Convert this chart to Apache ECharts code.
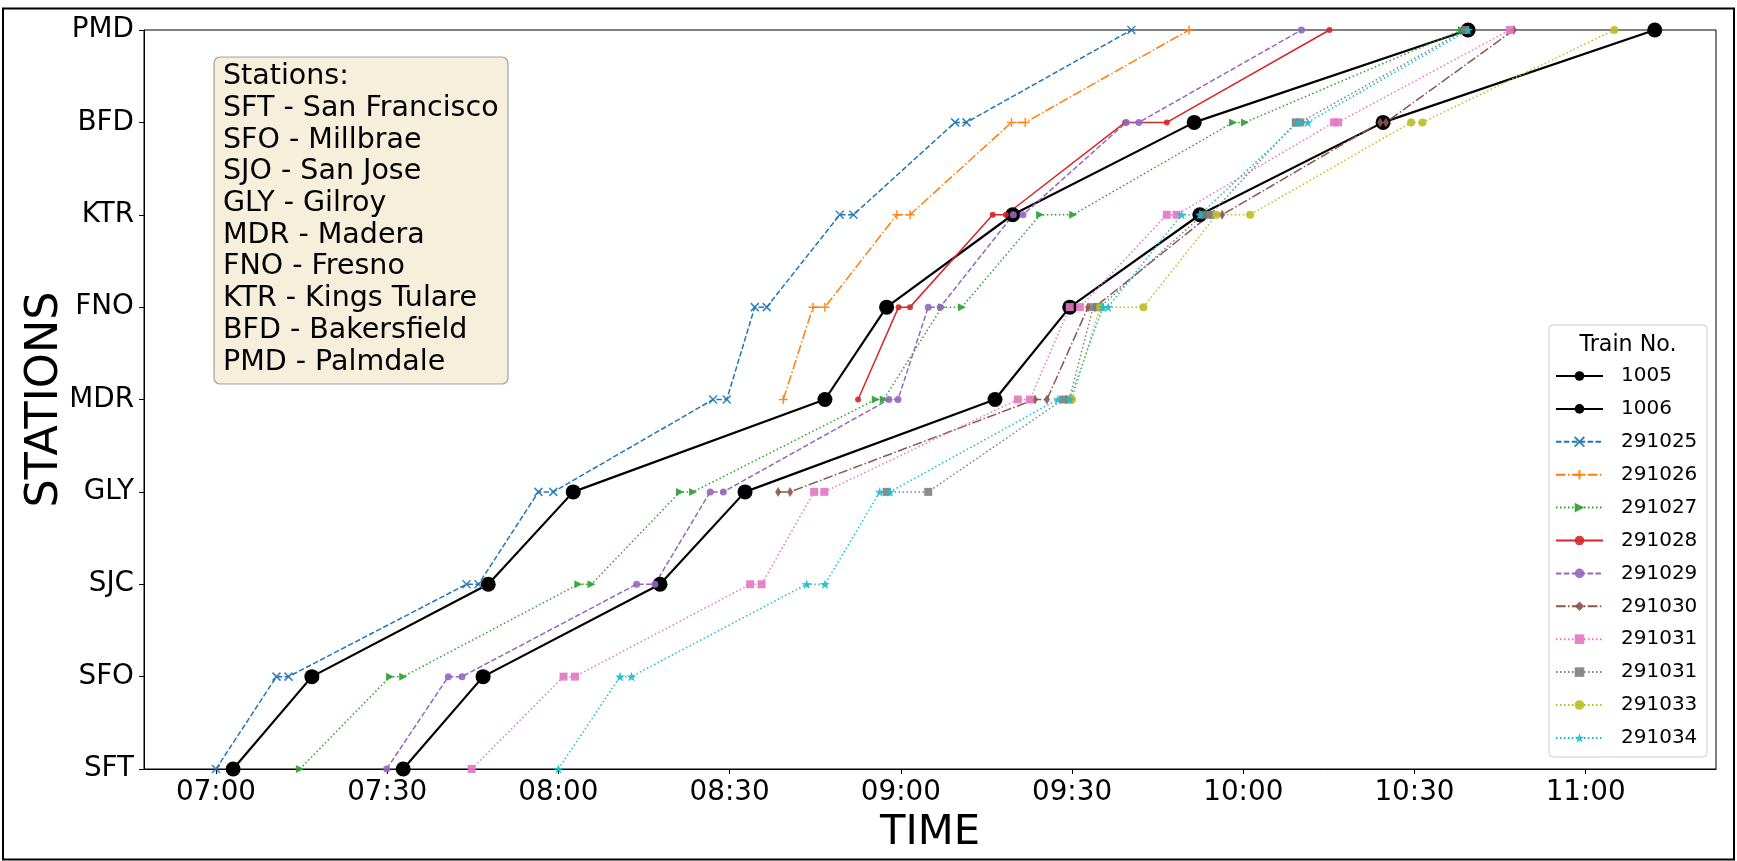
<!DOCTYPE html>
<html><head><meta charset="utf-8">
<script src="https://cdn.jsdelivr.net/npm/echarts@6/dist/echarts.min.js"></script>
<style>html,body{margin:0;padding:0;background:#fff;}#c{width:1737px;height:861px;}</style>
</head><body><div id="c"></div>
<script>
// ---------- DATA ----------
const stations = ['SFT','SFO','SJC','GLY','MDR','FNO','KTR','BFD','PMD'];
const boxTitle = 'Stations:';
const boxLines = ['SFT - San Francisco','SFO - Millbrae','SJO - San Jose','GLY - Gilroy','MDR - Madera','FNO - Fresno','KTR - Kings Tulare','BFD - Bakersfield','PMD - Palmdale'];
const xTicks = ['07:00','07:30','08:00','08:30','09:00','09:30','10:00','10:30','11:00'];
const xRange = ['06:47:23','11:22:50'];
const legendTitle = 'Train No.';
const trainNames = ['1005','1006','291025','291026','291027','291028','291029','291030','291031','291031','291033','291034'];

const train1005 = [['SFT','07:03:00'],['SFO','07:16:48'],['SJC','07:47:42'],['GLY','08:02:36'],['MDR','08:46:42'],['FNO','08:57:30'],['KTR','09:19:36'],['BFD','09:51:24'],['PMD','10:39:24']];
const train1006 = [['SFT','07:32:48'],['SFO','07:46:48'],['SJC','08:17:48'],['GLY','08:32:42'],['MDR','09:16:30'],['FNO','09:29:36'],['KTR','09:52:24'],['BFD','10:24:30'],['PMD','11:12:06']];
const train291025 = [['SFT','07:00:00'],['SFO','07:10:36'],['SFO','07:12:42'],['SJC','07:43:54'],['SJC','07:46:00'],['GLY','07:56:30'],['GLY','07:59:06'],['MDR','08:27:06'],['MDR','08:29:30'],['FNO','08:34:24'],['FNO','08:36:30'],['KTR','08:49:18'],['KTR','08:51:42'],['BFD','09:09:30'],['BFD','09:11:30'],['PMD','09:40:24']];
const train291026 = [['MDR','08:39:24'],['FNO','08:44:36'],['FNO','08:46:42'],['KTR','08:59:18'],['KTR','09:01:36'],['BFD','09:19:24'],['BFD','09:21:48'],['PMD','09:50:30']];
const train291027 = [['SFT','07:14:42'],['SFO','07:30:30'],['SFO','07:32:48'],['SJC','08:03:30'],['SJC','08:05:48'],['GLY','08:21:18'],['GLY','08:23:36'],['MDR','08:55:36'],['MDR','08:57:00'],['FNO','09:07:12'],['FNO','09:10:42'],['KTR','09:24:24'],['KTR','09:30:12'],['BFD','09:58:12'],['BFD','10:00:18'],['PMD','10:38:18']];
const train291028 = [['MDR','08:52:30'],['FNO','08:59:36'],['FNO','09:01:36'],['KTR','09:16:06'],['KTR','09:18:24'],['BFD','09:39:18'],['BFD','09:46:36'],['PMD','10:15:06']];
const train291029 = [['SFT','07:29:54'],['SFO','07:40:42'],['SFO','07:43:06'],['SJC','08:13:42'],['SJC','08:16:54'],['GLY','08:26:36'],['GLY','08:28:54'],['MDR','08:57:54'],['MDR','08:59:30'],['FNO','09:04:48'],['FNO','09:06:54'],['KTR','09:19:42'],['KTR','09:21:24'],['BFD','09:39:30'],['BFD','09:41:42'],['PMD','10:10:12']];
const train291030 = [['GLY','08:38:30'],['GLY','08:40:36'],['MDR','09:23:30'],['MDR','09:25:36'],['FNO','09:32:48'],['FNO','09:34:00'],['KTR','09:54:12'],['KTR','09:56:18'],['BFD','10:24:00'],['BFD','10:25:00'],['PMD','10:47:24']];
const train291031a = [['SFT','07:44:48'],['SFO','08:00:54'],['SFO','08:02:54'],['SJC','08:33:36'],['SJC','08:35:36'],['GLY','08:44:48'],['GLY','08:46:36'],['MDR','09:20:30'],['MDR','09:22:36'],['FNO','09:29:36'],['FNO','09:31:24'],['KTR','09:46:36'],['KTR','09:48:18'],['BFD','10:15:54'],['BFD','10:16:36'],['PMD','10:46:42']];
const train291031b = [['GLY','08:57:30'],['GLY','09:04:48'],['MDR','09:28:24'],['MDR','09:29:30'],['FNO','09:33:42'],['FNO','09:34:54'],['KTR','09:52:54'],['KTR','09:54:12'],['BFD','10:09:12'],['BFD','10:10:00'],['PMD','10:38:54']];
const train291033 = [['MDR','09:30:00'],['FNO','09:34:54'],['FNO','09:42:30'],['KTR','09:55:18'],['KTR','10:01:12'],['BFD','10:29:24'],['BFD','10:31:24'],['PMD','11:05:00']];
const train291034 = [['SFT','08:00:00'],['SFO','08:10:48'],['SFO','08:12:48'],['SJC','08:43:30'],['SJC','08:46:42'],['GLY','08:56:18'],['GLY','08:58:06'],['MDR','09:27:30'],['MDR','09:29:36'],['FNO','09:35:24'],['FNO','09:36:18'],['KTR','09:49:12'],['KTR','09:52:24'],['BFD','10:09:36'],['BFD','10:11:18'],['PMD','10:39:24']];

const trainStops = [train1005,train1006,train291025,train291026,train291027,train291028,train291029,train291030,train291031a,train291031b,train291033,train291034];

// ---------- STYLE ----------
const FONT = 'DejaVu Sans';
const X_SYM = 'path://M0,0L10,10M10,0L0,10';
const PLUS_SYM = 'path://M5,0L5,10M0,5L10,5';
const TRI_SYM = 'path://M0,0L10,5L0,10Z';
const STAR_SYM = 'path://M10,0L12.35,6.76L19.51,6.91L13.8,11.24L15.88,18.09L10,14L4.12,18.09L6.2,11.24L0.49,6.91L7.65,6.76Z';
const colors = ['#000000','#000000','#1f77b4','#ff7f0e','#2ca02c','#d62728','#9467bd','#8c564b','#e377c2','#7f7f7f','#bcbd22','#17becf'];
const DASH = [5.5,2.4], DASHDOT = [9.6,2.4,1.5,2.4], DOT = [1.5,2.5];
const dashes = ['solid','solid',DASH,DASHDOT,DOT,'solid',DASH,DASHDOT,DOT,DOT,DOT,DOT];
const symbols = ['circle','circle',X_SYM,PLUS_SYM,TRI_SYM,'circle','circle','diamond','rect','rect','circle',STAR_SYM];
const sizes = [15,15,8,9,8,6,7,[6,10],8,8,8,10];
const widths = [2.2,2.2,1.5,1.5,1.5,1.5,1.5,1.5,1.5,1.5,1.5,1.5];
const stroked = [false,false,true,true,false,false,false,false,false,false,false,false];

const toMin = s => { const p = s.split(':').map(Number); return p[0]*60 + p[1] + (p[2]||0)/60; };
const fmt = v => { const h = Math.floor(v/60), m = Math.round(v - h*60); return String(h).padStart(2,'0')+':'+String(m).padStart(2,'0'); };

const series = trainStops.map((stops, i) => ({
  type: 'line',
  name: trainNames[i] + '#' + i,
  data: stops.map(s => [toMin(s[1]), stations.indexOf(s[0])]),
  symbol: symbols[i],
  symbolSize: sizes[i],
  symbolKeepAspect: true,
  showSymbol: true,
  lineStyle: {color: colors[i], width: widths[i], type: dashes[i]},
  itemStyle: stroked[i] ? {color: colors[i], borderColor: colors[i], borderWidth: 1.5, opacity: 0.9}
                        : {color: colors[i], opacity: i < 2 ? 1 : 0.9},
  emphasis: {disabled: true},
  animation: false
}));

const chart = echarts.init(document.getElementById('c'), null, {renderer: 'canvas'});
chart.setOption({
  animation: false,
  backgroundColor: '#fff',
  grid: {left: 144, right: 21, top: 30, bottom: 92, show: true, borderColor: '#000', borderWidth: 1, containLabel: false},
  xAxis: {
    type: 'value', min: toMin(xRange[0]), max: toMin(xRange[1]),
    name: 'TIME', nameLocation: 'middle', nameGap: 42,
    nameTextStyle: {fontFamily: FONT, fontSize: 41.7, color: '#000'},
    axisLine: {show: true, lineStyle: {color: '#000', width: 1}},
    axisTick: {show: true, inside: false, length: 5, lineStyle: {color: '#000'}, customValues: xTicks.map(toMin)},
    axisLabel: {fontFamily: FONT, fontSize: 27.8, color: '#000', margin: 10, customValues: xTicks.map(toMin), formatter: fmt},
    splitLine: {show: false}
  },
  yAxis: {
    type: 'value', min: 0, max: stations.length - 1, interval: 1,
    name: 'STATIONS', nameLocation: 'middle', nameGap: 76, nameMoveOverlap: false,
    nameTextStyle: {fontFamily: FONT, fontSize: 44.5, color: '#000'},
    axisLine: {show: true, lineStyle: {color: '#000', width: 1}},
    axisTick: {show: true, inside: false, length: 5, lineStyle: {color: '#000'}},
    axisLabel: {fontFamily: FONT, fontSize: 27.8, color: '#000', margin: 10, formatter: v => stations[v] || ''},
    splitLine: {show: false}
  },
  legend: {
    orient: 'vertical', left: 1555, top: 364, padding: 0,
    itemWidth: 47, itemHeight: 12, itemGap: 8.9,
    selectedMode: false,
    data: series.map(s => s.name),
    formatter: n => n.split('#')[0],
    textStyle: {fontFamily: FONT, fontSize: 20, color: '#000', lineHeight: 24, padding: [0,0,0,13]}
  },
  graphic: [
    {type: 'rect', z: 100, shape: {x: 3, y: 8.5, width: 1731, height: 851}, style: {fill: 'none', stroke: '#000', lineWidth: 2}},
    {type: 'rect', z: 100, shape: {x: 214, y: 57, width: 294, height: 327, r: 6}, style: {fill: 'rgb(246,239,220)', stroke: 'rgba(0,0,0,0.35)', lineWidth: 1.2}},
    {type: 'text', z: 101, style: {x: 223, y: 61, text: [boxTitle].concat(boxLines).join('\n'), font: '28.5px "DejaVu Sans"', lineHeight: 31.7, fill: '#000', verticalAlign: 'top', align: 'left'}},
    {type: 'rect', z: -1, shape: {x: 1549, y: 325, width: 158, height: 432, r: 4}, style: {fill: 'rgba(255,255,255,0.8)', stroke: '#cccccc', lineWidth: 1}},
    {type: 'text', z: 101, style: {x: 1628, y: 345, text: legendTitle, font: '22.2px "DejaVu Sans"', fill: '#000', align: 'center', verticalAlign: 'middle'}}
  ],
  series: series
});
</script></body></html>
